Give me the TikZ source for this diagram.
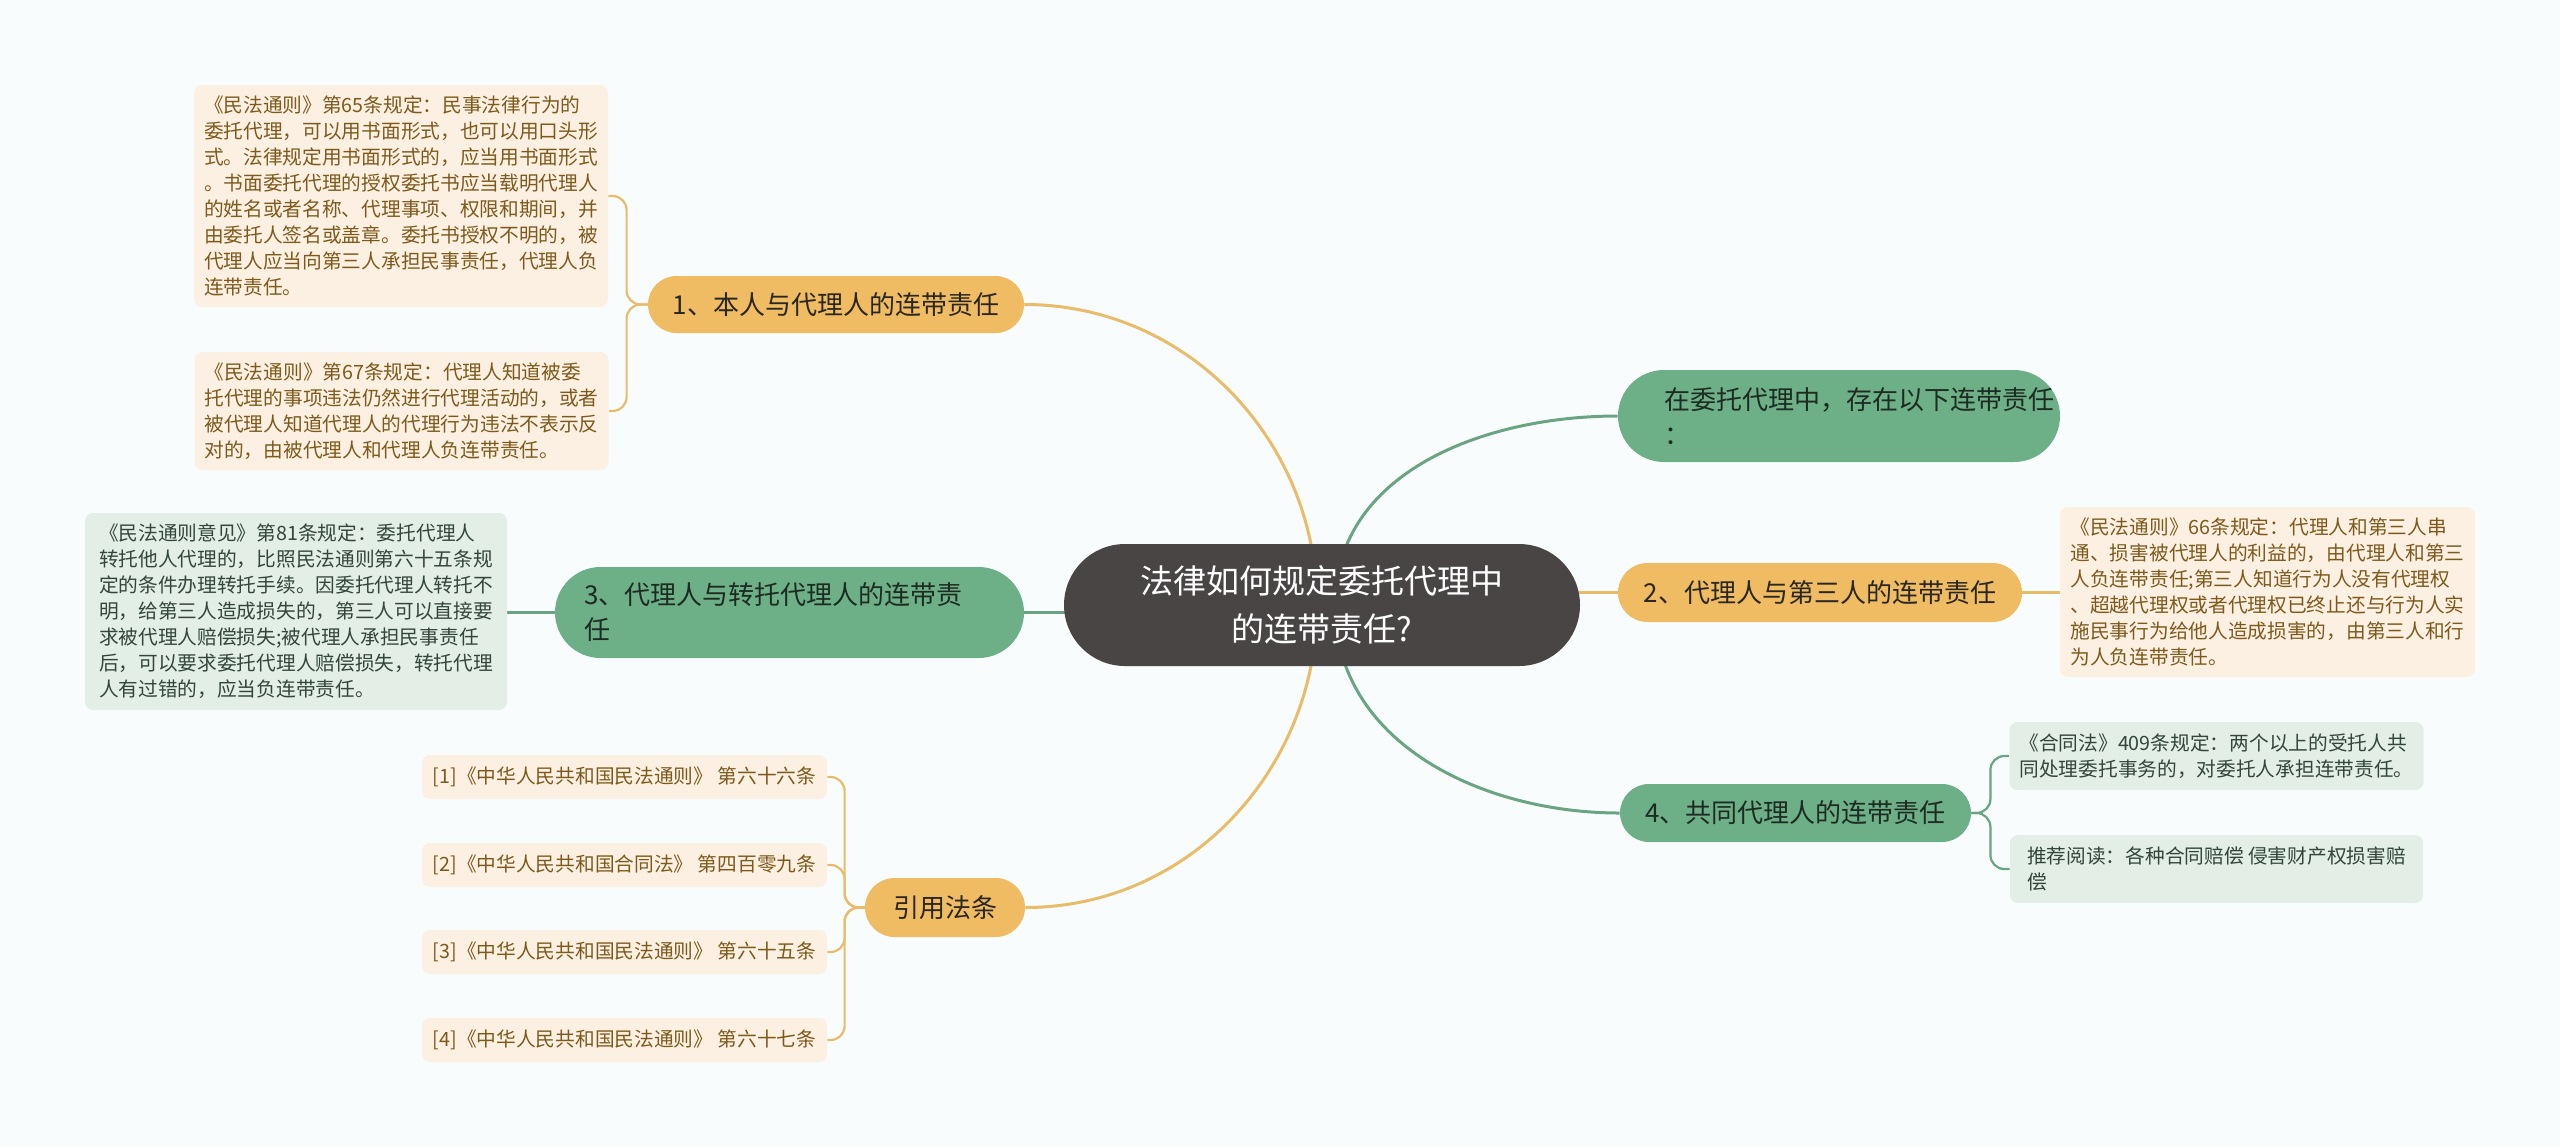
\documentclass[tikz,border=0pt]{standalone}
\usepackage{fontspec}
\setmainfont{Noto Sans CJK SC}
\usetikzlibrary{calc}
\pgfdeclarelayer{background}
\pgfsetlayers{background,main}
\definecolor{bgc}{HTML}{F8FCFD}
\definecolor{darkc}{HTML}{4A4545}
\definecolor{orangec}{HTML}{EFBC64}
\definecolor{greenc}{HTML}{6DAF87}
\definecolor{olinec}{HTML}{E9BC6A}
\definecolor{glinec}{HTML}{6AA482}
\definecolor{lorange}{HTML}{FCF0E2}
\definecolor{lgreen}{HTML}{E2EEE6}
\definecolor{otext}{HTML}{7D5A1C}
\definecolor{gtext}{HTML}{34453A}
\definecolor{obtext}{HTML}{2A2620}
\definecolor{gbtext}{HTML}{1E2B22}
\tikzset{
  centernode/.style={rectangle, rounded corners=30.5pt, fill=darkc, text=white,
    font=\fontsize{16.5}{24}\selectfont, align=center, inner sep=0pt,
    minimum width=258pt, minimum height=61pt},
  obranch/.style={rectangle, fill=orangec, text=obtext, inner sep=0pt,
    font=\fontsize{13}{17}\selectfont, align=center},
  gbranch/.style={rectangle, fill=greenc, text=gbtext, inner sep=0pt,
    font=\fontsize{13}{17}\selectfont, align=center},
  btext/.style={inner sep=0pt, font=\fontsize{13}{17.5}\selectfont},
  onote/.style={rectangle, rounded corners=4pt, fill=lorange, text=otext,
    font=\fontsize{9.85}{13}\selectfont, align=left, inner xsep=5pt, inner ysep=0pt},
  gnote/.style={rectangle, rounded corners=4pt, fill=lgreen, text=gtext,
    font=\fontsize{9.85}{13}\selectfont, align=left, inner xsep=5pt, inner ysep=0pt},
  oline/.style={draw=olinec, line width=1.5pt},
  gline/.style={draw=glinec, line width=1.5pt},
  obrk/.style={draw=olinec, line width=1.1pt, rounded corners=7pt},
  gbrk/.style={draw=glinec, line width=1.1pt, rounded corners=7pt},
}
\begin{document}
\begin{tikzpicture}[x=0.5pt, y=-0.5pt]
\useasboundingbox (0,0) rectangle (2560,1147);
\begin{pgfonlayer}{background}
\fill[bgc] (0,0) rectangle (2560,1147);
\end{pgfonlayer}

% center
\node[centernode] (c) at (1322,605) {法律如何规定委托代理中\\的连带责任?};

% left branches
\node[obranch, rounded corners=28.5*0.5pt, minimum width=188pt, minimum height=28.5pt] (n1) at (836,304.5) {1、本人与代理人的连带责任};
\node[gbranch, rounded corners=22.75pt, minimum height=45.5pt, text width=205.5pt, inner xsep=14.5pt, align=left,
  font=\fontsize{13}{17.5}\selectfont] (n3) at (789.5,612.5) {3、代理人与转托代理人的连带责\\任};
\node[obranch, rounded corners=14.75pt, minimum width=80pt, minimum height=29.5pt] (yy) at (945,907.5) {引用法条};

% right branches
\node[gbranch, rounded corners=23pt, minimum width=221pt, minimum height=46pt] (zw) at (1839,416) {};
\node[btext, anchor=west, align=left, text=gbtext] (zwt) at (1664,416) {在委托代理中，存在以下连带责任\\：};
\node[obranch, rounded corners=14.75pt, minimum width=202pt, minimum height=29.5pt] (n2) at (1820,592.5) {2、代理人与第三人的连带责任};
\node[gbranch, rounded corners=14.5pt, minimum width=175.5pt, minimum height=29pt] (n4) at (1795.5,813) {4、共同代理人的连带责任};

% notes left
\node[onote, minimum width=207pt, minimum height=111pt] (b65) at (401,196) {《民法通则》第65条规定：民事法律行为的\\委托代理，可以用书面形式，也可以用口头形\\式。法律规定用书面形式的，应当用书面形式\\。书面委托代理的授权委托书应当载明代理人\\的姓名或者名称、代理事项、权限和期间，并\\由委托人签名或盖章。委托书授权不明的，被\\代理人应当向第三人承担民事责任，代理人负\\连带责任。};
\node[onote, minimum width=206.5pt, minimum height=59pt] (b67) at (401.5,411) {《民法通则》第67条规定：代理人知道被委\\托代理的事项违法仍然进行代理活动的，或者\\被代理人知道代理人的代理行为违法不表示反\\对的，由被代理人和代理人负连带责任。};
\node[gnote, minimum width=211pt, minimum height=98.5pt] (b81) at (296,611.5) {《民法通则意见》第81条规定：委托代理人\\转托他人代理的，比照民法通则第六十五条规\\定的条件办理转托手续。因委托代理人转托不\\明，给第三人造成损失的，第三人可以直接要\\求被代理人赔偿损失;被代理人承担民事责任\\后，可以要求委托代理人赔偿损失，转托代理\\人有过错的，应当负连带责任。};
\node[onote, minimum width=202.5pt, minimum height=22pt] (c1) at (624.5,777) {[1]《中华人民共和国民法通则》 第六十六条};
\node[onote, minimum width=202.5pt, minimum height=22pt] (c2) at (624.5,865) {[2]《中华人民共和国合同法》 第四百零九条};
\node[onote, minimum width=202.5pt, minimum height=22pt] (c3) at (624.5,952) {[3]《中华人民共和国民法通则》 第六十五条};
\node[onote, minimum width=202.5pt, minimum height=22pt] (c4) at (624.5,1040) {[4]《中华人民共和国民法通则》 第六十七条};

% notes right
\node[onote, minimum width=207.5pt, minimum height=85pt] (b66) at (2267.5,592) {《民法通则》66条规定：代理人和第三人串\\通、损害被代理人的利益的，由代理人和第三\\人负连带责任;第三人知道行为人没有代理权\\、超越代理权或者代理权已终止还与行为人实\\施民事行为给他人造成损害的，由第三人和行\\为人负连带责任。};
\node[gnote, minimum width=206.5pt, minimum height=34pt] (b409) at (2216.5,756) {《合同法》409条规定：两个以上的受托人共\\同处理委托事务的，对委托人承担连带责任。};
\node[gnote, minimum width=206.5pt, minimum height=34pt] (brec) at (2216.5,869) {推荐阅读：各种合同赔偿 侵害财产权损害赔\\偿};

% connectors
\coordinate (co) at ([xshift=-2.5pt]c.center);
\coordinate (cg) at ([xshift=6.5pt]c.center);
\begin{pgfonlayer}{background}
\draw[oline] (co) to[out=90,in=0] (n1.east);
\draw[oline] (co) to[out=-90,in=0] (yy.east);
\draw[gline] (n3.east) -- (n3.east -| c.center);
\draw[gline] (cg) to[out=90,in=180] (zw.west);
\draw[gline] (cg) to[out=-90,in=180] (n4.west);
\draw[oline] (n2.west) -- (n2.west -| c.center);
% brackets
\draw[obrk] (b65.east) -| ($(n1.west)+(-10.5pt,0)$) -- (n1.west);
\draw[obrk] (b67.east) -| ($(n1.west)+(-10.5pt,0)$) -- (n1.west);
\draw[gline, line width=1.1pt] (b81.east |- n3.west) -- (n3.west);
\draw[obrk] (c1.east) -| ($(yy.west)+(-10pt,0)$) -- (yy.west);
\draw[obrk] (c2.east) -| ($(yy.west)+(-10pt,0)$) -- (yy.west);
\draw[obrk] (c3.east) -| ($(yy.west)+(-10pt,0)$) -- (yy.west);
\draw[obrk] (c4.east) -| ($(yy.west)+(-10pt,0)$) -- (yy.west);
\draw[oline, line width=1.1pt] (n2.east) -- (b66.west |- n2.east);
\draw[gbrk] (b409.west) -| ($(n4.east)+(9.5pt,0)$) -- (n4.east);
\draw[gbrk] (brec.west) -| ($(n4.east)+(9.5pt,0)$) -- (n4.east);
\end{pgfonlayer}
\end{tikzpicture}
\end{document}
